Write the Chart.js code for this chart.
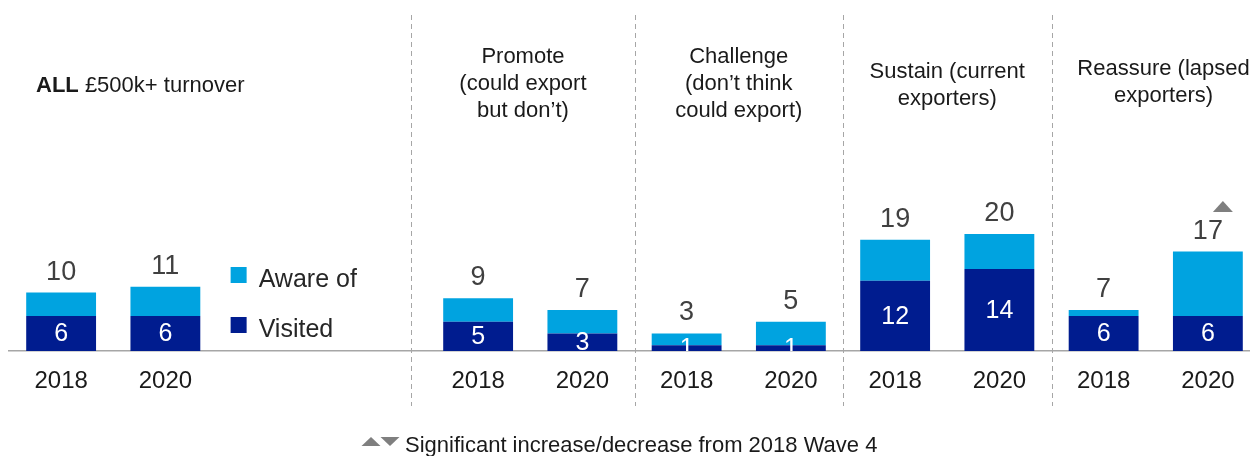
<!DOCTYPE html>
<html>
<head>
<meta charset="utf-8">
<script src="https://cdn.jsdelivr.net/npm/chart.js@4.4.1/dist/chart.umd.min.js"></script>
<style>
  html, body { margin: 0; padding: 0; background: #fff; overflow: hidden; }
  #wrap { position: relative; width: 1262px; height: 456px; }
</style>
</head>
<body>
<div id="wrap"><canvas id="bar_chart"></canvas></div>
<script>
// two empty slots after the "ALL" pair hold the legend
var years = ['2018', '2020', '', '', '2018', '2020', '2018', '2020', '2018', '2020', '2018', '2020'];
var visited = [6, 6, null, null, 5, 3, 1, 1, 12, 14, 6, 6];
var awareTotal = [10, 11, null, null, 9, 7, 3, 5, 19, 20, 7, 17];
var significance = ['', '', '', '', '', '', '', '', '', '', '', 'up'];

var groupTitles = [
    ['Promote', '(could export', 'but don\u2019t)'],
    ['Challenge', '(don\u2019t think', 'could export)'],
    ['Sustain (current', 'exporters)'],
    ['Reassure (lapsed', 'exporters)']
];
// divider positions in category units (last one is off the canvas)
var dividers = [3.36, 5.5, 7.5, 9.5, 11.65];

var LIGHT = '#00A3E0';
var DARK = '#001C8F';
var FONT = '"Liberation Sans", Arial, sans-serif';

// stacked on top of "visited", so only the remainder
var awareOnly = awareTotal.map(function (t, i) {
    return t === null ? null : t - visited[i];
});

function tri(ctx, cx, cy, w, h, up) {
    ctx.beginPath();
    if (up) {
        ctx.moveTo(cx - w / 2, cy + h / 2);
        ctx.lineTo(cx + w / 2, cy + h / 2);
        ctx.lineTo(cx, cy - h / 2);
    } else {
        ctx.moveTo(cx - w / 2, cy - h / 2);
        ctx.lineTo(cx + w / 2, cy - h / 2);
        ctx.lineTo(cx, cy + h / 2);
    }
    ctx.closePath();
    ctx.fill();
}

var overlay = {
    id: 'overlay',
    afterDatasetsDraw: function (chart) {
        var ctx = chart.ctx;
        var area = chart.chartArea;
        var xs = chart.scales.x;
        var low = chart.getDatasetMeta(0).data;
        var top = chart.getDatasetMeta(1).data;

        ctx.save();

        // dashed group dividers
        ctx.strokeStyle = '#a6a6a6';
        ctx.lineWidth = 1;
        ctx.setLineDash([5, 4]);
        dividers.forEach(function (d) {
            var x = Math.round(xs.getPixelForValue(d)) + 0.5;
            ctx.beginPath();
            ctx.moveTo(x, 15);
            ctx.lineTo(x, 406);
            ctx.stroke();
        });
        ctx.setLineDash([]);

        // totals above each stack
        ctx.fillStyle = '#404040';
        ctx.font = '27px ' + FONT;
        ctx.textAlign = 'center';
        ctx.textBaseline = 'alphabetic';
        for (var i = 0; i < awareTotal.length; i++) {
            if (awareTotal[i] === null) continue;
            ctx.fillText(String(awareTotal[i]), top[i].x, top[i].y - 13);
            if (significance[i]) {
                ctx.fillStyle = '#7f7f7f';
                tri(ctx, top[i].x + 15, top[i].y - 45, 20, 11, significance[i] === 'up');
                ctx.fillStyle = '#404040';
            }
        }

        // visited values, clipped at the baseline
        ctx.save();
        ctx.beginPath();
        ctx.rect(area.left, area.top, area.right - area.left, area.bottom - area.top);
        ctx.clip();
        ctx.fillStyle = '#ffffff';
        ctx.font = '25px ' + FONT;
        ctx.textBaseline = 'middle';
        for (var j = 0; j < visited.length; j++) {
            if (visited[j] === null) continue;
            var b = low[j];
            ctx.fillText(String(visited[j]), b.x, (b.y + b.base) / 2 + 1);
        }
        ctx.restore();

        // legend in the empty slot
        var lx = xs.getPixelForValue(2) - 39;
        ctx.font = '25px ' + FONT;
        ctx.textAlign = 'left';
        ctx.textBaseline = 'alphabetic';
        [[chart.data.datasets[1], 267], [chart.data.datasets[0], 317]].forEach(function (it) {
            ctx.fillStyle = it[0].backgroundColor;
            ctx.fillRect(lx, it[1], 16, 16);
            ctx.fillStyle = '#262626';
            ctx.fillText(it[0].label, lx + 28, it[1] + 20);
        });

        // group titles
        ctx.fillStyle = '#1a1a1a';
        ctx.font = 'bold 22px ' + FONT;
        ctx.fillText('ALL', 36, 92);
        var w = ctx.measureText('ALL ').width;
        ctx.font = '22px ' + FONT;
        ctx.fillText('\u00a3500k+ turnover', 36 + w, 92);

        ctx.textAlign = 'center';
        var firstLine = [63, 63, 78, 75];
        groupTitles.forEach(function (lines, g) {
            var cx = (xs.getPixelForValue(dividers[g]) + xs.getPixelForValue(dividers[g + 1])) / 2;
            lines.forEach(function (ln, k) {
                ctx.fillText(ln, cx, firstLine[g] + k * 27);
            });
        });

        // footnote
        ctx.fillStyle = '#7f7f7f';
        tri(ctx, 371, 441.5, 19, 9, true);
        tri(ctx, 390, 441.5, 19, 9, false);
        ctx.fillStyle = '#1a1a1a';
        ctx.textAlign = 'left';
        ctx.fillText('Significant increase/decrease from 2018 Wave 4', 405, 452);

        ctx.restore();
    }
};

var config = {
    type: 'bar',
    data: {
        labels: years,
        datasets: [{
            label: 'Visited',
            data: visited,
            backgroundColor: DARK,
            barPercentage: 0.67,
            categoryPercentage: 1
        }, {
            label: 'Aware of',
            data: awareOnly,
            backgroundColor: LIGHT,
            barPercentage: 0.67,
            categoryPercentage: 1
        }]
    },
    options: {
        responsive: true,
        maintainAspectRatio: false,
        animation: false,
        events: [],
        layout: { padding: { left: 9, right: 2, top: 10, bottom: 0 } },
        plugins: { legend: { display: false }, tooltip: { enabled: false } },
        scales: {
            x: {
                stacked: true,
                grid: { display: false, drawTicks: false },
                border: { display: true, color: '#a6a6a6', width: 1.5 },
                ticks: {
                    color: '#1a1a1a',
                    font: { family: FONT, size: 24 },
                    padding: 16,
                    maxRotation: 0,
                    autoSkip: false
                },
                afterFit: function (scale) { scale.height = 105; }
            },
            y: {
                stacked: true,
                display: false,
                min: 0,
                max: 58.3
            }
        }
    },
    plugins: [overlay]
};

new Chart(document.getElementById('bar_chart').getContext('2d'), config);
</script>
</body>
</html>
